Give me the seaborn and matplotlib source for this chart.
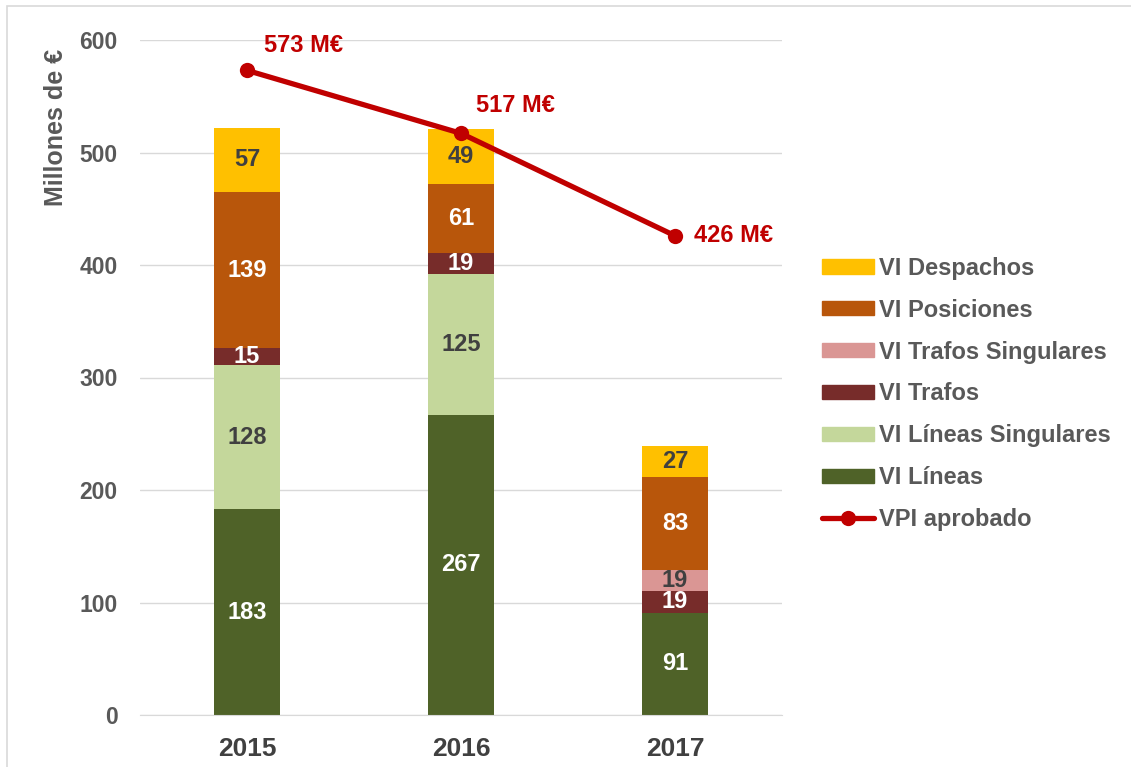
import matplotlib.pyplot as plt
import matplotlib.patches as mpatches
from matplotlib.lines import Line2D
import numpy as np
import pandas as pd
import seaborn as sns

sns.set_style("white")
plt.rcParams["font.family"] = ["Liberation Sans", "DejaVu Sans"]

# data
years = ["2015", "2016", "2017"]
lineas = [183, 267, 91]
lineas_sing = [128, 125, 0]
trafos = [15, 19, 19]
trafos_sing = [0, 0, 19]
posiciones = [139, 61, 83]
despachos = [57, 49, 27]
vpi = [573, 517, 426]

series = ["VI Líneas", "VI Líneas Singulares", "VI Trafos",
          "VI Trafos Singulares", "VI Posiciones", "VI Despachos"]
values = [lineas, lineas_sing, trafos, trafos_sing, posiciones, despachos]
colors = ["#4F6228", "#C4D79B", "#772C2A", "#DA9694", "#B8560B", "#FFC000"]
label_colors = ["white", "#404040", "white", "#404040", "white", "#404040"]
GRAY = "#595959"

fig = plt.figure(figsize=(11.31, 7.67), dpi=100)
ax = fig.add_axes([140 / 1131, 1 - 715 / 767, 642 / 1131, 675 / 767])

# stacked bars: draw cumulative totals from the top layer down
cum = np.cumsum(np.array(values), axis=0)
for i in reversed(range(len(series))):
    df = pd.DataFrame({"year": years, "total": cum[i]})
    sns.barplot(data=df, x="year", y="total", color=colors[i], width=0.31,
                linewidth=0, saturation=1, ax=ax, zorder=2)

# segment labels
for i in range(len(series)):
    for j in range(len(years)):
        v = values[i][j]
        if v == 0:
            continue
        ax.text(j, cum[i][j] - v / 2, str(v), ha="center", va="center",
                fontsize=17, fontweight="bold", color=label_colors[i], zorder=4)

# VPI line
sns.lineplot(x=np.arange(len(years)), y=vpi, color="#C00000", lw=3.8,
             marker="o", markersize=11, markeredgewidth=0, ax=ax, zorder=5)
offsets = [(12, 18), (11, 20), (14, 0)]
for j, v in enumerate(vpi):
    ax.annotate(f"{v} M€", (j, v), xytext=offsets[j], textcoords="offset points",
                ha="left", va="center", fontsize=17, fontweight="bold",
                color="#C00000", zorder=6)

ax.set_xlim(-0.5, 2.5)
ax.set_ylim(0, 600)
ax.set_yticks(range(0, 601, 100))
ax.grid(axis="y", color="#D9D9D9", lw=1, zorder=0)
ax.set_axisbelow(True)
for s in ["top", "right", "left"]:
    ax.spines[s].set_visible(False)
ax.spines["bottom"].set_color("#D9D9D9")
ax.tick_params(axis="y", length=0, pad=16, labelsize=16.5, labelcolor=GRAY)
ax.tick_params(axis="x", length=0, pad=16, labelsize=19, labelcolor="#404040")
for t in ax.get_xticklabels() + ax.get_yticklabels():
    t.set_fontweight("bold")
ax.set_xlabel("")
ax.set_ylabel("Millones de €", fontsize=18, fontweight="bold", color=GRAY)
ax.yaxis.set_label_coords(-0.112, 0.871)

# legend
handles = [mpatches.Patch(color=colors[i], label=series[i]) for i in reversed(range(len(series)))]
handles.append(Line2D([0], [0], color="#C00000", lw=3.8, marker="o", markersize=11,
                      markeredgewidth=0, label="VPI aprobado"))
leg = fig.legend(handles=handles, loc="center left", bbox_to_anchor=(822 / 1131, 1 - 394 / 767),
                 frameon=False, fontsize=17, handlelength=2.2, handleheight=0.55,
                 handletextpad=0.2, labelspacing=0.8, borderpad=0, borderaxespad=0)
for t in leg.get_texts():
    t.set_color(GRAY)
    t.set_fontweight("bold")

# chart border
fig.patches.append(mpatches.Rectangle((7 / 1131, -0.01), 1.0, 1 - 6 / 767 + 0.01,
                                      transform=fig.transFigure, fill=False,
                                      edgecolor="#D9D9D9", lw=1.2))

fig.savefig("out.png", dpi=100)
